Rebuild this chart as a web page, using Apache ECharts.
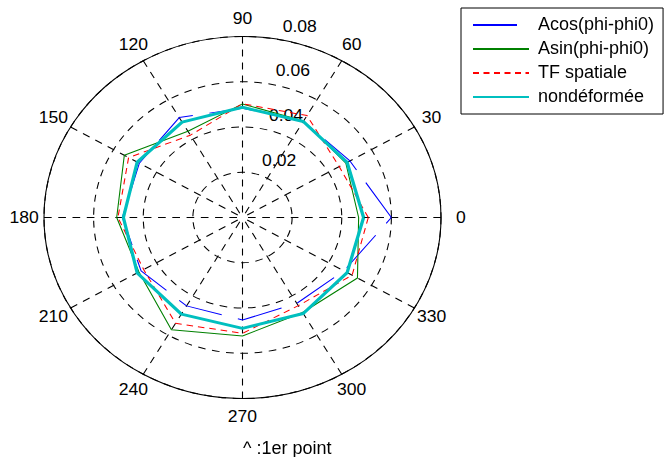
<!DOCTYPE html>
<html>
<head>
<meta charset="utf-8">
<script src="https://cdn.jsdelivr.net/npm/echarts@6/dist/echarts.min.js"></script>
<style>
  html, body { margin: 0; padding: 0; background: #fff; }
  #wrap { position: relative; width: 671px; height: 457px; overflow: hidden; background: #fff; }
  #polarLayer { position: absolute; left: 0; top: 0; width: 612px; height: 457px; transform-origin: 0 0; }
  #legendLayer { position: absolute; left: 0; top: 0; width: 671px; height: 457px; pointer-events: none; }
</style>
</head>
<body>
<div id="wrap">
  <div id="polarLayer"></div>
  <div id="legendLayer"></div>
</div>
<script>
// Polar angles (degrees) of the 12 measurement points
const angles = [0, 30, 60, 90, 120, 150, 180, 210, 240, 270, 300, 330];

// Radius at each angle, one array per method
const acosValues   = [0.0600, 0.0500, 0.0490, 0.0483, 0.0510, 0.0480, 0.0484, 0.0472, 0.0451, 0.0453, 0.0438, 0.0472];
const asinValues   = [0.0468, 0.0481, 0.0493, 0.0502, 0.0440, 0.0550, 0.0507, 0.0482, 0.0573, 0.0524, 0.0485, 0.0535];
const tfValues     = [0.0507, 0.0450, 0.0520, 0.0503, 0.0420, 0.0530, 0.0502, 0.0460, 0.0540, 0.0512, 0.0450, 0.0510];
const refValues    = [0.0488, 0.0487, 0.0490, 0.0487, 0.0487, 0.0490, 0.0480, 0.0490, 0.0493, 0.0490, 0.0490, 0.0487];

const seriesNames  = ['Acos(phi-phi0)', 'Asin(phi-phi0)', 'TF spatiale', 'nondéformée'];

// Radial ticks
const radiusTicks  = [0, 0.02, 0.04, 0.06, 0.08];

// The plot is wider than tall: the polar layer is drawn round and stretched horizontally
const stretchX = 1.0967;
const centerX = 242.5 / stretchX;
const centerY = 217.5;
const outerR = 181;

document.getElementById('polarLayer').style.transform = 'scaleX(' + stretchX + ')';

const FONT = 'Liberation Sans, Arial, Helvetica, sans-serif';
const LABEL_SIZE = 16;

function closedLoop(values) {
  const pts = angles.map((a, i) => [values[i], a]);
  pts.push([values[0], 360]);
  return pts;
}

// Dash lengths are given in the unstretched polar layer, so long dashes are
// shortened by the mean horizontal stretch of a closed loop.
const meanStretch = (1 + stretchX) / 2;
const styles = [
  { color: '#0000ff', width: 1, type: [44 / meanStretch, 16 / meanStretch] },
  { color: '#008000', width: 1, type: 'solid' },
  { color: '#ff0000', width: 1, type: [6, 4.5] },
  { color: '#00bfbf', width: 3, type: 'solid' }
];
const dataSets = [acosValues, asinValues, tfValues, refValues];

// Angle labels are centred on a ring at 1.1 x the outer radius:
// each label gets padding that pushes it from the axis anchor to that ring.
const labelMargin = -9;
const measureCtx = document.createElement('canvas').getContext('2d');
measureCtx.font = LABEL_SIZE + 'px ' + FONT;
const angleRich = {};
angles.forEach(a => {
  const t = a * Math.PI / 180;
  const c = Math.cos(t), s = Math.sin(t);
  const r = outerR + labelMargin;
  const tx = 1.1 * outerR * c, ty = 1.1 * outerR * s;
  const w = measureCtx.measureText(String(a)).width;
  const h = LABEL_SIZE / 2;
  let pl = 0, pr = 0, pt = 0, pb = 0;
  if (Math.abs(r * c) / outerR >= 0.3) {
    if (c > 0) pl = tx - r * c - w / 2; else pr = r * c - w / 2 - tx;
  }
  if (Math.abs(r * s) / outerR >= 0.3) {
    if (s > 0) pb = ty - r * s - h; else pt = r * s - h - ty;
  }
  angleRich['a' + a] = {
    color: '#000', fontSize: LABEL_SIZE, fontFamily: FONT,
    padding: [Math.max(pt, 0), Math.max(pr, 0), Math.max(pb, 0), Math.max(pl, 0)]
  };
});

const polarChart = echarts.init(document.getElementById('polarLayer'), null, { renderer: 'svg' });
polarChart.setOption({
  animation: false,
  backgroundColor: 'transparent',
  polar: [
    { center: [centerX, centerY], radius: outerR },
    { center: [centerX, centerY], radius: outerR }
  ],
  angleAxis: [
    {
      polarIndex: 0,
      type: 'value', min: 0, max: 360, interval: 30,
      startAngle: 0, clockwise: false,
      axisLine: { show: true, lineStyle: { color: '#000', width: 1 } },
      axisTick: { show: false },
      splitLine: { show: true, lineStyle: { color: '#000', width: 1, type: [7, 6] } },
      axisLabel: {
        show: true, color: '#000', fontSize: LABEL_SIZE, fontFamily: FONT, margin: labelMargin,
        formatter: v => (v === 360 ? '' : '{a' + v + '|' + v + '}'),
        rich: angleRich
      }
    },
    {
      polarIndex: 1, show: false,
      type: 'value', min: 0, max: 360, startAngle: 82, clockwise: false
    }
  ],
  radiusAxis: [
    {
      polarIndex: 0,
      type: 'value', min: radiusTicks[0], max: radiusTicks[radiusTicks.length - 1], interval: 0.02,
      axisLine: { show: false }, axisTick: { show: false }, axisLabel: { show: false },
      splitLine: { show: true, lineStyle: { color: '#000', width: 1, type: [7, 6] } }
    },
    {
      polarIndex: 1,
      type: 'value', min: radiusTicks[0], max: radiusTicks[radiusTicks.length - 1], interval: 0.02,
      axisLine: { show: false }, axisTick: { show: false },
      splitLine: { show: false }, splitArea: { show: false },
      axisLabel: {
        show: true, color: '#000', fontSize: LABEL_SIZE, fontFamily: FONT,
        margin: -11.6, align: 'left', verticalAlign: 'bottom', padding: [0, 0, 5.5, 0],
        formatter: v => (v === 0 ? '' : v.toFixed(2))
      }
    }
  ],
  series: seriesNames.map((name, i) => ({
    name: name,
    type: 'line',
    coordinateSystem: 'polar',
    polarIndex: 0,
    symbol: 'none',
    smooth: false,
    data: closedLoop(dataSets[i]),
    lineStyle: { color: styles[i].color, width: styles[i].width, type: styles[i].type, dashOffset: 0 },
    itemStyle: { color: styles[i].color },
    z: 3 + i
  }))
});

// Legend and caption (not stretched)
const legendChart = echarts.init(document.getElementById('legendLayer'), null, { renderer: 'canvas' });
legendChart.setOption({
  animation: false,
  backgroundColor: 'transparent',
  polar: { center: [-1000, -1000], radius: 1 },
  angleAxis: { show: false, type: 'value', min: 0, max: 360 },
  radiusAxis: { show: false, type: 'value', min: 0, max: 1 },
  title: {
    text: '^ :1er point',
    left: 243, top: 440, padding: 0,
    textStyle: { color: '#000', fontSize: 18, fontWeight: 'normal', fontFamily: FONT }
  },
  legend: {
    orient: 'vertical',
    left: 461, top: 8,
    padding: [8, 9, 8, 11],
    itemWidth: 56, itemHeight: 14, itemGap: 6,
    backgroundColor: '#fff',
    borderColor: '#000', borderWidth: 1, borderRadius: 0,
    selectedMode: false,
    itemStyle: { opacity: 0 },
    textStyle: { color: '#000', fontSize: 18, fontFamily: FONT, padding: [0, 0, 0, 4] },
    data: seriesNames
  },
  series: seriesNames.map((name, i) => ({
    name: name,
    type: 'line',
    coordinateSystem: 'polar',
    symbol: 'none',
    data: [],
    lineStyle: {
      color: styles[i].color, width: styles[i].width,
      type: i === 0 ? [44, 16] : styles[i].type
    },
    itemStyle: { color: styles[i].color }
  }))
});
</script>
</body>
</html>
